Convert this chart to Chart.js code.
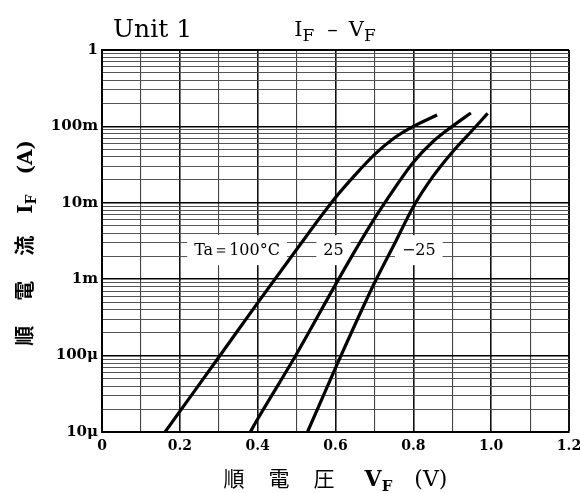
<!DOCTYPE html>
<html>
<head>
<meta charset="utf-8">
<script src="https://cdn.jsdelivr.net/npm/chart.js@4"></script>
<style>
  html, body { margin: 0; padding: 0; background: #fff; }
  #wrap { width: 580px; height: 493px; position: relative; }
</style>
</head>
<body>
<div id="wrap"><canvas id="ifvfChart"></canvas></div>
<script>
// --- DADOS ---
// Ta = 100°C
const vf100 = [0.162, 0.2, 0.3, 0.4, 0.5, 0.6, 0.65, 0.7, 0.75, 0.8, 0.861];
const if100 = [1e-5, 1.86e-5, 9.5e-5, 4.9e-4, 2.45e-3, 1.17e-2, 2.3e-2, 4.27e-2, 7.0e-2, 1.0e-1, 1.41e-1];
// Ta = 25°C
const vf25 = [0.381, 0.4, 0.5, 0.6, 0.65, 0.7, 0.75, 0.8, 0.85, 0.9, 0.948];
const if25 = [1e-5, 1.48e-5, 1.05e-4, 8.5e-4, 2.35e-3, 6.2e-3, 1.5e-2, 3.4e-2, 6.3e-2, 1.0e-1, 1.5e-1];
// Ta = -25°C
const vfm25 = [0.528, 0.6, 0.7, 0.75, 0.8, 0.85, 0.9, 0.95, 0.991];
const ifm25 = [1e-5, 6.9e-5, 8.9e-4, 2.8e-3, 8.9e-3, 2.2e-2, 4.6e-2, 8.7e-2, 1.48e-1];

// rótulos dos eixos
const xTickValues = [0, 0.2, 0.4, 0.6, 0.8, 1.0, 1.2];
const xTickLabels = ['0', '0.2', '0.4', '0.6', '0.8', '1.0', '1.2'];
const yDecades = [1e-5, 1e-4, 1e-3, 1e-2, 1e-1, 1];
const yTickLabels = ['10\u03bc', '100\u03bc', '1m', '10m', '100m', '1'];

// rótulos das curvas
const curveLabels = ['Ta\uff1d100\u00b0C', '25', '\u221225'];
const curveLabelAnchors = [
  { v: 0.347, i: 2.4e-3 },
  { v: 0.595, i: 2.4e-3 },
  { v: 0.814, i: 2.4e-3 },
];

const toPoints = (xs, ys) => xs.map((x, k) => ({ x: x, y: ys[k] }));

const isDecade = (v) => {
  const l = Math.log10(v);
  return Math.abs(l - Math.round(l)) < 1e-9;
};

// desenha um texto composto (com subscritos), centralizado em cx
function drawRun(ctx, parts, cx, baseY) {
  let total = 0;
  parts.forEach((p, k) => {
    ctx.font = p.font;
    p.w = ctx.measureText(p.t).width;
    total += p.w + (k < parts.length - 1 ? (p.gap || 0) : 0);
  });
  let xx = cx - total / 2;
  ctx.textAlign = 'left';
  ctx.textBaseline = 'alphabetic';
  parts.forEach((p) => {
    ctx.font = p.font;
    ctx.fillText(p.t, xx, baseY + (p.dy || 0));
    xx += p.w + (p.gap || 0);
  });
}

const SERIF = '"DejaVu Serif", "Liberation Serif", serif';
const CJK = '"Noto Sans CJK JP", "Noto Sans CJK SC", sans-serif';

const decorPlugin = {
  id: 'decor',
  beforeDatasetsDraw(chart) {
    const { ctx, scales: { x, y } } = chart;
    ctx.save();
    ctx.font = '16px ' + SERIF;
    ctx.textAlign = 'center';
    ctx.textBaseline = 'middle';
    curveLabels.forEach((txt, k) => {
      const cx = x.getPixelForValue(curveLabelAnchors[k].v);
      const cy = y.getPixelForValue(curveLabelAnchors[k].i);
      const w = ctx.measureText(txt).width + 14;
      ctx.fillStyle = '#fff';
      ctx.fillRect(cx - w / 2, cy - 15, w, 30);
      ctx.fillStyle = '#000';
      ctx.fillText(txt, cx, cy + 1);
    });
    ctx.restore();
  },
  afterDraw(chart) {
    const { ctx, chartArea } = chart;
    const midX = (chartArea.left + chartArea.right) / 2;
    const midY = (chartArea.top + chartArea.bottom) / 2;
    ctx.save();
    ctx.fillStyle = '#000';

    // título
    ctx.font = '25px ' + SERIF;
    ctx.textAlign = 'left';
    ctx.textBaseline = 'alphabetic';
    ctx.fillText('Unit 1', 113, 37);
    drawRun(ctx, [
      { t: 'I', font: '21px ' + SERIF },
      { t: 'F', font: '17px ' + SERIF, dy: 5, gap: 13 },
      { t: '\u2013', font: '21px ' + SERIF, gap: 11 },
      { t: 'V', font: '21px ' + SERIF },
      { t: 'F', font: '17px ' + SERIF, dy: 5 },
    ], 335, 36);

    // eixo x
    drawRun(ctx, [
      { t: '順', font: '21px ' + CJK, gap: 24 },
      { t: '電', font: '21px ' + CJK, gap: 24 },
      { t: '圧', font: '21px ' + CJK, gap: 30 },
      { t: 'V', font: 'bold 22px ' + SERIF },
      { t: 'F', font: 'bold 15px ' + SERIF, dy: 5, gap: 22 },
      { t: '(V)', font: '22px ' + SERIF },
    ], midX, 486);

    // eixo y (rotacionado)
    ctx.translate(32, midY + 2);
    ctx.rotate(-Math.PI / 2);
    drawRun(ctx, [
      { t: '順', font: 'bold 20px ' + CJK, gap: 25 },
      { t: '電', font: 'bold 20px ' + CJK, gap: 25 },
      { t: '流', font: 'bold 20px ' + CJK, gap: 22 },
      { t: 'I', font: 'bold 20px ' + SERIF },
      { t: 'F', font: 'bold 14px ' + SERIF, dy: 4, gap: 20 },
      { t: '(A)', font: 'bold 20px ' + SERIF },
    ], 0, 0);
    ctx.restore();
  },
};

const ctx = document.getElementById('ifvfChart').getContext('2d');
const curveStyle = {
  borderColor: '#000',
  borderWidth: 3.2,
  pointRadius: 0,
  fill: false,
  cubicInterpolationMode: 'monotone',
};

new Chart(ctx, {
  type: 'line',
  data: {
    datasets: [
      { label: '100', data: toPoints(vf100, if100), ...curveStyle },
      { label: '25', data: toPoints(vf25, if25), ...curveStyle },
      { label: '-25', data: toPoints(vfm25, ifm25), ...curveStyle },
    ],
  },
  options: {
    responsive: true,
    maintainAspectRatio: false,
    animation: false,
    layout: { padding: { top: 50, right: 11, bottom: 0, left: 0 } },
    plugins: {
      legend: { display: false },
      tooltip: { enabled: false },
    },
    scales: {
      x: {
        type: 'linear',
        min: 0,
        max: 1.2,
        afterBuildTicks: (s) => {
          const t = [];
          for (let k = 0; k <= 12; k++) t.push({ value: k / 10 });
          s.ticks = t;
        },
        afterFit: (s) => {
          s.height = 61;
          s.paddingLeft = 0;
          s.paddingRight = 0;
        },
        ticks: {
          autoSkip: false,
          maxRotation: 0,
          padding: 6,
          color: '#000',
          font: { family: 'DejaVu Serif', size: 14, weight: 'bold' },
          callback: (value) => {
            const k = xTickValues.findIndex((t) => Math.abs(t - value) < 1e-6);
            return k >= 0 ? xTickLabels[k] : '';
          },
        },
        grid: {
          drawTicks: false,
          color: (c) => {
            const v = Math.round(c.tick.value * 10);
            return v % 2 === 0 ? '#111' : '#444';
          },
          lineWidth: (c) => {
            const v = Math.round(c.tick.value * 10);
            if (v === 12) return 2;
            return v % 2 === 0 ? 1.6 : 1.1;
          },
        },
        border: { display: true, color: '#000', width: 2 },
      },
      y: {
        type: 'logarithmic',
        min: 1e-5,
        max: 1,
        afterBuildTicks: (s) => {
          const t = [];
          for (let e = -5; e < 0; e++) {
            for (let m = 1; m < 10; m++) t.push({ value: m * Math.pow(10, e) });
          }
          t.push({ value: 1 });
          s.ticks = t;
        },
        afterFit: (s) => {
          s.width = 102;
          s.paddingTop = 0;
          s.paddingBottom = 0;
        },
        ticks: {
          autoSkip: false,
          padding: 4,
          color: '#000',
          font: { family: 'DejaVu Serif', size: 15, weight: 'bold' },
          callback: (value) => {
            const k = yDecades.findIndex((d) => Math.abs(Math.log10(d) - Math.log10(value)) < 1e-6);
            return k >= 0 ? yTickLabels[k] : '';
          },
        },
        grid: {
          drawTicks: false,
          color: (c) => (isDecade(c.tick.value) ? '#000' : '#555'),
          lineWidth: (c) => {
            if (c.tick.value >= 0.999) return 2;
            return isDecade(c.tick.value) ? 1.6 : 1;
          },
        },
        border: { display: true, color: '#000', width: 2 },
      },
    },
  },
  plugins: [decorPlugin],
});
</script>
</body>
</html>
